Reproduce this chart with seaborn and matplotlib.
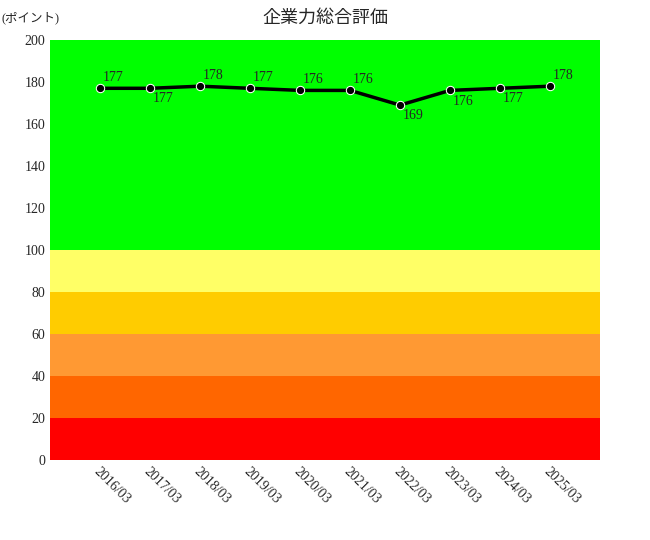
import matplotlib
matplotlib.use("Agg")
import matplotlib.pyplot as plt
import seaborn as sns
import pandas as pd

periods = ["2016/03","2017/03","2018/03","2019/03","2020/03","2021/03","2022/03","2023/03","2024/03","2025/03"]
scores = [177,177,178,177,176,176,169,176,177,178]
label_above = [True,False,True,True,True,True,False,False,False,True]
band_edges = [0,20,40,60,80,100,200]
band_colors = ["#ff0000","#ff6600","#ff9933","#ffcc00","#ffff66","#00ff00"]

sns.set_style("white")
plt.rcParams['font.family'] = ['Liberation Serif', 'Noto Sans CJK JP']

fig = plt.figure(figsize=(6.5,5.4), dpi=100)
ax = fig.add_axes([50/650, 80/540, 550/650, 420/540])
for lo, hi, c in zip(band_edges[:-1], band_edges[1:], band_colors):
    ax.axhspan(lo, hi, color=c, lw=0, zorder=0)

df = pd.DataFrame({"x": range(len(periods)), "y": scores})
sns.lineplot(data=df, x="x", y="y", ax=ax, color="black", lw=2.5, marker="o", markersize=6, zorder=3)
for i, (v, up) in enumerate(zip(scores, label_above)):
    if up:
        ax.text(i+0.05, v+2, str(v), ha="left", va="bottom", fontsize=10)
    else:
        ax.text(i+0.05, v-2, str(v), ha="left", va="top", fontsize=10)

ax.set_xlim(-1, 10)
ax.set_ylim(0, 200)
ax.set_yticks(range(0, 201, 20))
ax.set_xticks(range(len(periods)))
ax.set_xticklabels(periods, rotation=-45, ha="left", va="top", fontsize=10, rotation_mode="anchor")
ax.tick_params(axis="y", labelsize=10, length=0)
ax.tick_params(axis="x", length=0)
ax.set_xlabel("")
ax.set_ylabel("")
for s in ax.spines.values():
    s.set_visible(False)
fig.text(325/650, 1-18/540, "企業力総合評価", ha="center", va="center", fontsize=13)
fig.text(2/650, 1-18/540, "(ポイント)", ha="left", va="center", fontsize=9)
fig.savefig("out.png", dpi=100)
